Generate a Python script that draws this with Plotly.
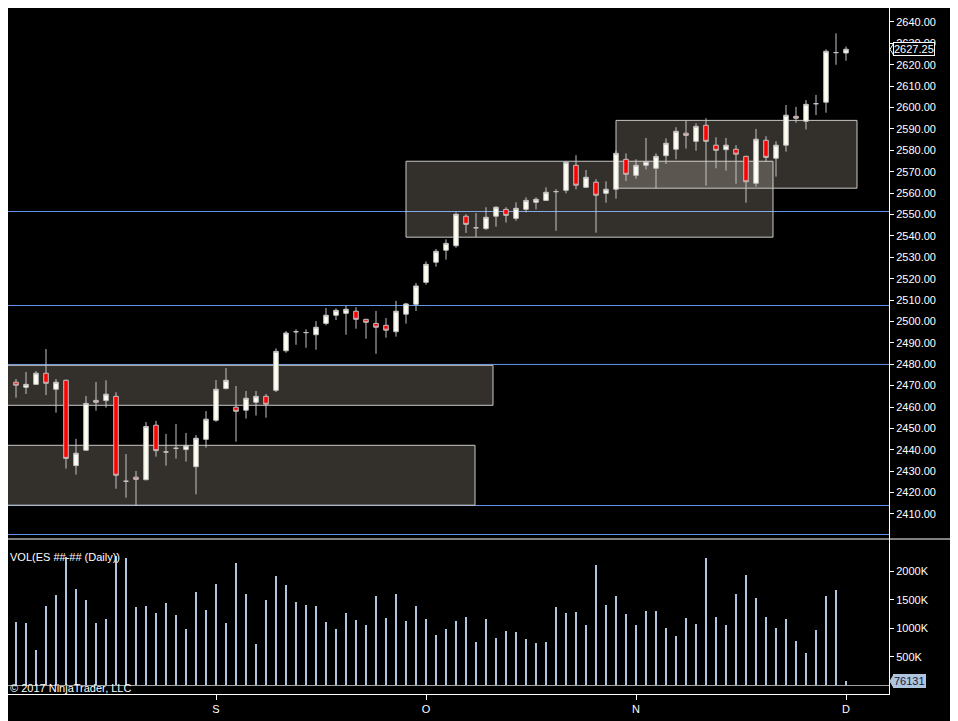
import plotly.graph_objects as go

# daily ES bars, index 0 = first bar on screen
opens = [2471.6, 2469.2, 2470.6, 2475.8, 2468.3, 2472.5, 2432.6, 2439.8, 2463.1, 2463.0,
         2465.0, 2425.3, 2427.2, 2426.0, 2451.5, 2439.0, 2440.7, 2440.1, 2432.1, 2444.9,
         2453.8, 2468.6, 2459.9, 2458.5, 2462.2, 2465.0, 2467.8, 2486.3, 2495.2, 2494.8,
         2493.8, 2499.1, 2502.9, 2503.8, 2504.8, 2501.0, 2499.1, 2498.2, 2495.2, 2503.4,
         2508.0, 2518.3, 2527.7, 2533.3, 2535.4, 2549.2, 2543.8, 2543.4, 2549.2, 2552.4,
         2548.2, 2552.4, 2555.7, 2556.6, 2560.7, 2561.3, 2573.0, 2562.7, 2565.1, 2559.9,
         2561.8, 2575.8, 2568.3, 2573.0, 2571.6, 2577.5, 2580.5, 2588.0, 2584.2, 2591.7,
         2582.4, 2580.3, 2580.5, 2577.2, 2564.6, 2584.7, 2576.3, 2582.4, 2595.9, 2593.6,
         2601.8, 2602.5, 2625.7, 2625.5]
highs = [2473.1, 2476.4, 2476.8, 2487.1, 2473.1, 2472.8, 2445.1, 2465.2, 2471.7, 2472.5,
         2466.9, 2438.0, 2430.1, 2453.0, 2453.5, 2447.4, 2452.1, 2447.9, 2446.9, 2458.1,
         2472.6, 2478.2, 2469.8, 2467.5, 2467.5, 2466.1, 2487.4, 2495.5, 2496.3, 2496.3,
         2500.2, 2506.3, 2506.1, 2507.4, 2506.6, 2501.2, 2504.9, 2501.6, 2509.6, 2508.7,
         2518.0, 2528.1, 2533.9, 2538.4, 2551.0, 2550.1, 2550.7, 2553.4, 2553.8, 2553.4,
         2555.7, 2558.0, 2558.0, 2562.7, 2561.8, 2574.9, 2577.7, 2570.8, 2566.5, 2565.5,
         2580.0, 2578.6, 2575.8, 2585.8, 2578.6, 2585.6, 2590.8, 2593.9, 2592.6, 2595.0,
         2586.1, 2585.8, 2582.4, 2577.4, 2590.0, 2586.6, 2584.2, 2601.2, 2600.3, 2603.5,
         2605.9, 2627.2, 2634.7, 2628.5]
lows = [2464.4, 2466.1, 2470.4, 2465.6, 2457.4, 2431.2, 2428.4, 2439.6, 2458.3, 2459.7,
        2421.8, 2417.6, 2413.9, 2425.9, 2436.8, 2432.6, 2435.9, 2434.5, 2419.2, 2441.0,
        2453.1, 2468.3, 2443.8, 2454.6, 2456.0, 2455.0, 2467.0, 2485.4, 2489.1, 2487.7,
        2486.8, 2498.2, 2500.7, 2493.8, 2496.6, 2491.9, 2484.9, 2492.4, 2492.9, 2499.0,
        2504.9, 2517.2, 2525.6, 2528.9, 2534.5, 2541.4, 2539.4, 2542.8, 2544.3, 2546.2,
        2547.1, 2551.0, 2552.4, 2556.5, 2542.4, 2559.9, 2561.8, 2562.6, 2541.5, 2555.5,
        2557.4, 2565.7, 2566.7, 2571.1, 2562.2, 2573.6, 2575.8, 2580.8, 2579.8, 2563.5,
        2571.6, 2570.5, 2564.4, 2555.5, 2563.0, 2574.7, 2567.7, 2579.4, 2592.9, 2589.8,
        2596.5, 2597.6, 2620.0, 2621.9]
closes = [2470.2, 2470.6, 2475.8, 2471.1, 2471.6, 2436.0, 2438.4, 2461.7, 2462.2, 2466.0,
          2428.1, 2425.3, 2426.2, 2450.9, 2439.6, 2439.0, 2440.7, 2441.9, 2445.4, 2454.3,
          2468.3, 2472.5, 2458.0, 2464.1, 2465.0, 2461.3, 2486.0, 2494.6, 2495.2, 2494.8,
          2497.3, 2502.9, 2505.2, 2505.7, 2501.0, 2499.6, 2497.3, 2495.9, 2504.8, 2508.2,
          2516.6, 2526.7, 2532.8, 2536.5, 2550.1, 2545.4, 2543.8, 2548.7, 2553.4, 2549.6,
          2552.9, 2556.6, 2557.1, 2560.4, 2560.7, 2574.4, 2563.7, 2567.4, 2559.0, 2561.8,
          2578.6, 2568.8, 2573.0, 2574.7, 2577.2, 2583.3, 2588.9, 2587.0, 2591.2, 2584.2,
          2580.0, 2582.4, 2578.2, 2565.3, 2585.2, 2576.7, 2582.4, 2596.4, 2595.0, 2601.5,
          2601.8, 2626.3, 2625.7, 2627.25]
volume = [1105000, 1088000, 614000, 1386000, 1579000, 2250000, 1684000, 1491000, 1088000, 1158000,
          2268000, 2228000, 1368000, 1386000, 1263000, 1438000, 1228000, 982000, 1631000, 1316000,
          1772000, 1088000, 2140000, 1596000, 719000, 1491000, 1912000, 1754000, 1456000, 1403000,
          1386000, 1105000, 982000, 1263000, 1140000, 1052000, 1561000, 1175000, 1596000, 1123000,
          1386000, 1158000, 877000, 982000, 1123000, 1193000, 754000, 1164000, 831000, 954000,
          936000, 814000, 744000, 761000, 1374000, 1269000, 1286000, 1059000, 2109000, 1409000,
          1566000, 1251000, 1059000, 1304000, 1304000, 1006000, 866000, 1181000, 1076000, 2231000,
          1199000, 1059000, 1601000, 1934000, 1531000, 1199000, 1006000, 1164000, 779000, 569000,
          971000, 1566000, 1671000, 76131]
bars = list(range(len(closes)))

month_bars = [20, 41, 62, 83]
month_labels = ["S", "O", "N", "D"]

# zones drawn on the chart (bar index from/to, price low/high)
zone_from = [-4, -4, 39.0, 60.0]
zone_to = [47.7, 45.9, 75.7, 84.1]
zone_low = [2460.8, 2414.1, 2539.4, 2562.3]
zone_high = [2479.5, 2442.1, 2574.9, 2594.0]

# horizontal levels
levels = [2551.4, 2507.45, 2479.9, 2413.95, 2400.4]

price_ticks = list(range(2410, 2641, 10))
vol_ticks = [500000, 1000000, 1500000, 2000000]
vol_labels = ["500K", "1000K", "1500K", "2000K"]

# the page body adds an 8px margin, so the figure is 8px smaller each way
W, H = 950, 713
FONT = "Liberation Sans, Arial, sans-serif"
BLUE = "#6495ed"
VOLC = "#b0c4de"
plot_right = 881 / W
sep_y = 1 - 531 / H

fig = go.Figure()

fig.add_trace(go.Candlestick(
    x=bars, open=opens, high=highs, low=lows, close=closes,
    increasing=dict(fillcolor="#fffff2", line=dict(color="#c4c4c4", width=1)),
    decreasing=dict(fillcolor="#ff0000", line=dict(color="#c4c4c4", width=1)),
    whiskerwidth=0, xaxis="x", yaxis="y", showlegend=False, hoverinfo="skip",
))

fig.add_trace(go.Bar(
    x=bars, y=volume, width=0.22, marker=dict(color=VOLC, line=dict(width=0)),
    xaxis="x2", yaxis="y2", showlegend=False, hoverinfo="skip",
))

shapes = []
for x0, x1, lo, hi in zip(zone_from, zone_to, zone_low, zone_high):
    shapes.append(dict(type="rect", xref="x", yref="y", x0=x0, x1=x1, y0=lo, y1=hi,
                       fillcolor="rgba(255,240,222,0.2)",
                       line=dict(color="#c8c8c8", width=1), layer="below"))
for lv in levels:
    shapes.append(dict(type="line", xref="x domain", yref="y", x0=0, x1=1, y0=lv, y1=lv,
                       line=dict(color=BLUE, width=1), layer="below"))
# panel separator
shapes.append(dict(type="line", xref="paper", yref="paper", x0=0, x1=1, y0=sep_y, y1=sep_y,
                   line=dict(color="white", width=1)))

# little pointers in front of the last-value labels
px0, px1 = 882 / W, 886 / W
last_p = closes[-1]
shapes.append(dict(type="path", xref="paper", yref="y",
                   path=f"M {px0},{last_p} L {px1},{last_p + 3.0} L {px1},{last_p - 3.0} Z",
                   fillcolor="black", line=dict(color="white", width=1)))
last_v = volume[-1]
shapes.append(dict(type="path", xref="paper", yref="y2",
                   path=f"M {px0},{last_v} L {px1},{last_v + 120000} L {px1},{last_v - 120000} Z",
                   fillcolor=VOLC, line=dict(color=VOLC, width=1)))

annotations = [
    dict(text="2627.25", xref="paper", yref="y", x=885 / W, y=last_p, xanchor="left",
         yanchor="middle", showarrow=False, bgcolor="black", bordercolor="white", borderwidth=1,
         borderpad=0, font=dict(family=FONT, size=11, color="white")),
    dict(text=str(last_v), xref="paper", yref="y2", x=885 / W, y=last_v, xanchor="left",
         yanchor="middle", showarrow=False, bgcolor=VOLC, bordercolor=VOLC, borderwidth=1,
         borderpad=0, font=dict(family=FONT, size=11, color="#102040")),
    dict(text="VOL(ES ##-## (Daily))", xref="paper", yref="paper", x=0, y=1 - 549 / H,
         xanchor="left", yanchor="middle", showarrow=False,
         font=dict(family=FONT, size=11, color="white")),
    dict(text="© 2017 NinjaTrader, LLC", xref="paper", yref="paper", x=0, y=1 - 680 / H,
         xanchor="left", yanchor="middle", showarrow=False,
         font=dict(family=FONT, size=11, color="white")),
]

fig.update_layout(
    width=W, height=H,
    margin=dict(l=0, r=0, t=0, b=0, autoexpand=False),
    paper_bgcolor="black", plot_bgcolor="black",
    font=dict(family=FONT, size=11, color="white"),
    boxgap=0.35, bargap=0,
    shapes=shapes, annotations=annotations,
    xaxis=dict(domain=[0, plot_right], range=[-0.8, 87.3], anchor="y",
               showticklabels=False, showgrid=False, zeroline=False, showline=False,
               ticks="", rangeslider=dict(visible=False)),
    yaxis=dict(domain=[sep_y, 1], range=[2398.3, 2646.54], side="right",
               anchor="x", tickvals=price_ticks, tickformat=".2f", ticks="outside", ticklen=4,
               tickcolor="white", showline=True, linecolor="white", linewidth=1,
               showgrid=False, zeroline=False, tickfont=dict(size=11, color="white")),
    xaxis2=dict(domain=[0, plot_right], range=[-0.8, 87.3], anchor="y2", matches="x",
                tickvals=month_bars, ticktext=month_labels, ticks="outside", ticklen=5,
                tickcolor="white", showline=True, linecolor="white", linewidth=1,
                showgrid=False, zeroline=False, tickfont=dict(size=11, color="white")),
    yaxis2=dict(domain=[1 - 686 / H, sep_y], range=[-149000, 2564000], side="right",
                anchor="x2", tickvals=vol_ticks, ticktext=vol_labels, ticks="outside",
                ticklen=4, tickcolor="white", showline=True, linecolor="white", linewidth=1,
                showgrid=False, zeroline=True, zerolinecolor="#a0a0a0", zerolinewidth=1,
                tickfont=dict(size=11, color="white")),
)

fig.write_html("out.html")
